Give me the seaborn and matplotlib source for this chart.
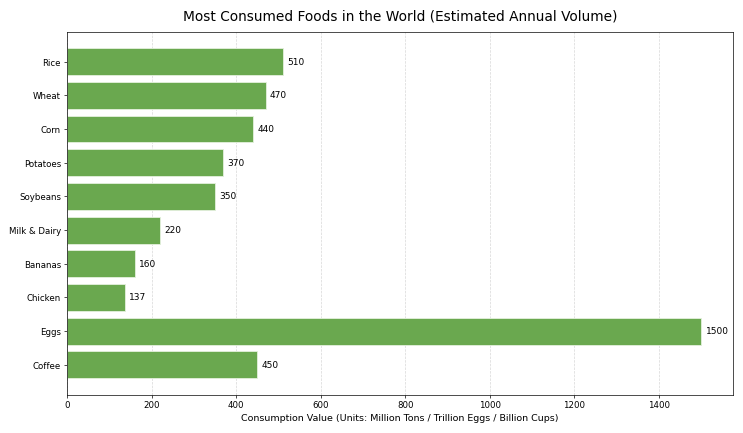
import matplotlib
matplotlib.use("Agg")
import matplotlib.pyplot as plt
import seaborn as sns
import pandas as pd

foods = ["Rice", "Wheat", "Corn", "Potatoes", "Soybeans", "Milk & Dairy",
         "Bananas", "Chicken", "Eggs", "Coffee"]
values = [510, 470, 440, 370, 350, 220, 160, 137, 1500, 450]

df = pd.DataFrame({"food": foods, "value": values})

fig, ax = plt.subplots(figsize=(12, 7), dpi=61.92)
sns.barplot(data=df, x="value", y="food", orient="h", color="#6aa84f",
            saturation=1, width=0.8, edgecolor="#e3f0dc", linewidth=1, ax=ax)

for i, v in enumerate(values):
    ax.text(v + 10, i, f"{v}", va="center", ha="left", fontsize=10.5)

n = len(foods)
span = (n - 1) + 0.8
ax.set_ylim(n - 1 + 0.4 + 0.05 * span, -0.4 - 0.05 * span)
ax.set_xlim(0, 1575)
ax.set_title("Most Consumed Foods in the World (Estimated Annual Volume)",
             fontsize=16, pad=13)
ax.set_xlabel("Consumption Value (Units: Million Tons / Trillion Eggs / Billion Cups)",
              fontsize=11)
ax.set_ylabel("")
ax.tick_params(axis="both", labelsize=10)
ax.xaxis.grid(True, linestyle="--", alpha=0.5)
ax.set_axisbelow(True)

plt.subplots_adjust(left=0.0902, right=0.9865, top=0.926, bottom=0.088)
fig.savefig("out.png", dpi=61.92)
